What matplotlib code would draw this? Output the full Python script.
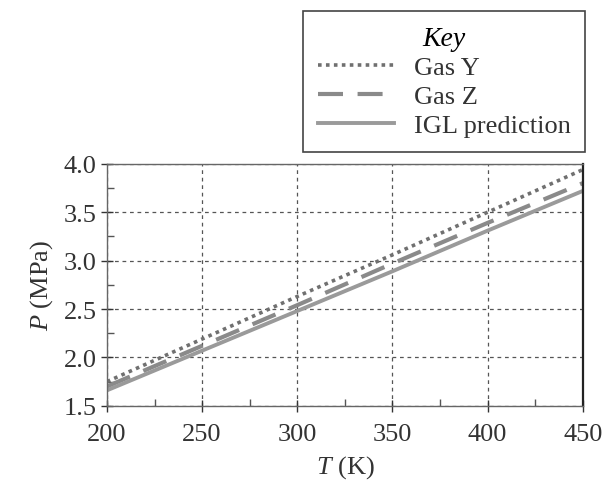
import matplotlib
matplotlib.use('Agg')
import matplotlib.pyplot as plt
from matplotlib.ticker import MultipleLocator

# DATA ---------------------------------------------------------------------------------------------------------------
temps = [200, 250, 300, 350, 400, 450]
gas_y = [1.75, 2.19, 2.63, 3.06, 3.50, 3.94]
gas_z = [1.70, 2.12, 2.54, 2.97, 3.39, 3.80]
igl = [1.66, 2.07, 2.48, 2.89, 3.31, 3.72]
x_ticks = [200, 250, 300, 350, 400, 450]
y_ticks = [1.5, 2.0, 2.5, 3.0, 3.5, 4.0]

# STYLE --------------------------------------------------------------------------------------------------------------
plt.rcParams['font.family'] = ['Liberation Serif', 'DejaVu Serif']
plt.rcParams['mathtext.fontset'] = 'custom'
plt.rcParams['mathtext.rm'] = 'Liberation Serif'
plt.rcParams['mathtext.it'] = 'Liberation Serif:italic'

fig = plt.figure(figsize=(6.04, 4.89), dpi=100)
ax = fig.add_axes([0.177, 0.168, 0.788, 0.495])

ax.plot(temps, gas_y, color='#707070', linestyle=(0, (1, 1.2)), linewidth=2.6, label='Gas Y')
ax.plot(temps, gas_z, color='#8a8a8a', linestyle=(0, (6, 3.5)), linewidth=3.0, label='Gas Z')
ax.plot(temps, igl, color='#9a9a9a', linestyle='-', linewidth=2.8, label='IGL prediction')

ax.set_xlim(200, 450)
ax.set_ylim(1.5, 4.0)
ax.set_xticks(x_ticks)
ax.set_yticks(y_ticks)
ax.set_yticklabels([f'{v:.1f}' for v in y_ticks])
ax.xaxis.set_minor_locator(MultipleLocator(25))
ax.yaxis.set_minor_locator(MultipleLocator(0.25))
ax.tick_params(which='major', direction='inout', length=8, width=1, labelsize=19, colors='#333333')
ax.tick_params(axis='x', which='major', pad=8)
ax.tick_params(which='minor', direction='in', length=5, width=1, color='#555555')
ax.grid(True, which='major', color='#555555', linestyle=(0, (3, 3)), linewidth=0.9)

for side in ['left', 'bottom', 'top']:
    ax.spines[side].set_color('#666666')
    ax.spines[side].set_linewidth(1.0)
ax.spines['right'].set_color('#222222')
ax.spines['right'].set_linewidth(1.6)

ax.set_xlabel(r'$T$ (K)', fontsize=19, color='#333333', labelpad=6)
ax.set_ylabel(r'$P$ (MPa)', fontsize=19, color='#333333', labelpad=6)

# legend box above the axes
leg = fig.legend(loc='upper right', bbox_to_anchor=(0.969, 0.975), borderaxespad=0, title='Key',
                 fontsize=19, handlelength=2.9, labelspacing=0.2, handletextpad=0.75,
                 borderpad=0.55, fancybox=False, edgecolor='#444444', framealpha=1)
leg.get_title().set_fontstyle('italic')
leg.get_title().set_fontsize(20)
leg.get_frame().set_linewidth(1.2)
for t in leg.get_texts():
    t.set_color('#333333')

plt.savefig('out.png', dpi=100)
